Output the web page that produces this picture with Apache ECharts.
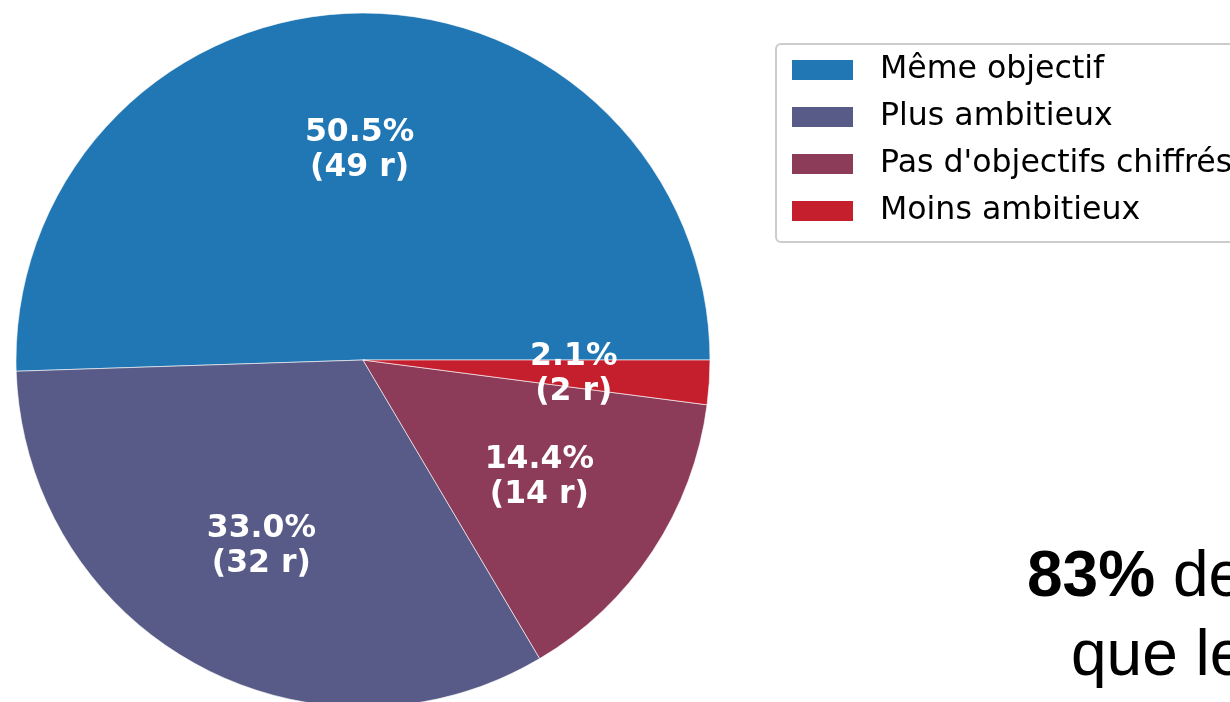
<!DOCTYPE html>
<html>
<head>
<meta charset="utf-8">
<script src="https://cdn.jsdelivr.net/npm/echarts@6/dist/echarts.min.js"></script>
<style>
  html, body { margin: 0; padding: 0; background: #fff; }
  #chart { width: 1230px; height: 702px; }
</style>
</head>
<body>
<div id="chart"></div>
<script>
const categories = ['Même objectif', 'Plus ambitieux', "Pas d'objectifs chiffrés", 'Moins ambitieux']
const counts = [49, 32, 14, 2]
const colors = ['#2077b4', '#585a87', '#8c3b58', '#c51f2e']

const total = counts.reduce((a, b) => a + b, 0)
const pieData = categories.map((name, i) => ({ name, value: counts[i] }))

const chart = echarts.init(document.getElementById('chart'))

const R = 347

const option = {
  backgroundColor: '#fff',
  animation: false,
  color: colors,

  legend: {
    orient: 'vertical',
    left: 776,
    top: 44,
    padding: [10, 30, 15, 14],
    itemWidth: 63,
    itemHeight: 22,
    itemGap: 15,
    borderColor: '#cccccc',
    borderWidth: 2,
    borderRadius: 5,
    backgroundColor: '#fff',
    icon: 'rect',
    selectedMode: false,
    textStyle: {
      color: '#000',
      fontFamily: 'DejaVu Sans',
      fontSize: 31.6,
      padding: [0, 0, 0, 21]
    },
    data: categories
  },

  series: [
    {
      type: 'pie',
      center: [363, 360],
      radius: [0, R],
      startAngle: 0,
      clockwise: false,
      silent: true,
      label: { show: false },
      labelLine: { show: false },
      itemStyle: {
        borderColor: '#fff',
        borderWidth: 0.6
      },
      data: pieData
    },
    {
      // transparent ring only used to place the percentage labels at 0.6 R
      type: 'pie',
      center: [363, 361],
      radius: [R * 0.2, R],
      startAngle: 0,
      clockwise: false,
      silent: true,
      legendHoverLink: false,
      itemStyle: { color: 'transparent' },
      labelLine: { show: false },
      label: {
        show: true,
        position: 'inside',
        color: '#fff',
        fontFamily: 'DejaVu Sans',
        fontWeight: 'bold',
        fontSize: 31.5,
        lineHeight: 35,
        align: 'center',
        formatter: (p) => (p.value / total * 100).toFixed(1) + '%\n(' + p.value + ' r)'
      },
      data: categories.map((name, i) => ({ name: name + ' ', value: counts[i] }))
    }
  ],

  graphic: [
    {
      type: 'text',
      left: 1027,
      top: 546,
      style: {
        text: '{b|83%} de',
        fill: '#000',
        font: '64px "Liberation Sans"',
        rich: {
          b: { fontWeight: 'bold', fontSize: 64, fontFamily: 'Liberation Sans', fill: '#000' }
        }
      }
    },
    {
      type: 'text',
      left: 1071,
      top: 625,
      style: {
        text: 'que le',
        fill: '#000',
        font: '64px "Liberation Sans"'
      }
    }
  ]
}

chart.setOption(option)
</script>
</body>
</html>
